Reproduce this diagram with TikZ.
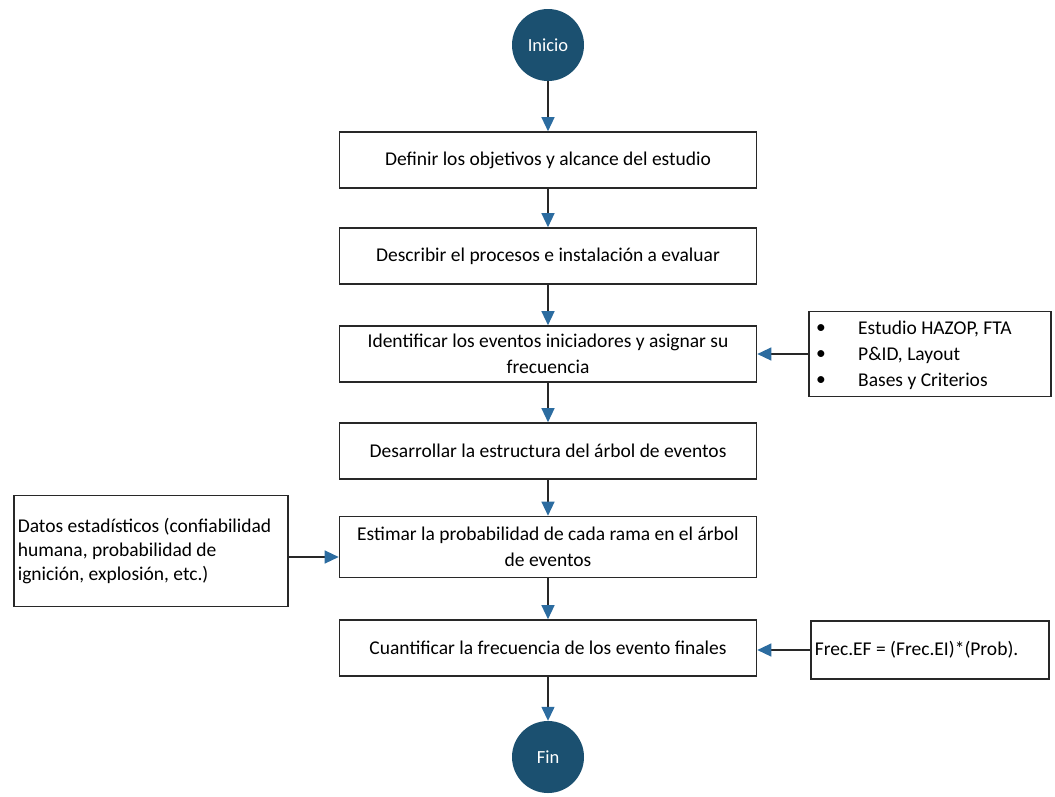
\documentclass[tikz,border=0pt]{standalone}
\usepackage{fontspec}
\setmainfont{Carlito}
\usetikzlibrary{arrows.meta}
\definecolor{circfill}{RGB}{27,80,112}
\definecolor{tipblue}{RGB}{44,108,160}
\definecolor{linegray}{RGB}{40,40,40}
\tikzset{
  stepbox/.style={draw=linegray, line width=1.6pt, minimum width=417pt, minimum height=56pt,
    align=center, inner sep=2pt, font=\fontsize{19.5}{26}\selectfont},
  sidebox/.style={draw=linegray, line width=1.6pt, align=flush left, inner sep=4pt},
  sidetext/.style={anchor=west, inner sep=0pt, font=\fontsize{19.5}{24}\selectfont},
  endpoint/.style={circle, fill=circfill, text=white, minimum size=72pt, inner sep=0pt,
    font=\fontsize{18.5}{22}\selectfont},
  flow/.style={draw=linegray, line width=1.3pt,
    -{Triangle[length=14pt, width=13pt, color=tipblue]}}
}
\begin{document}
\begin{tikzpicture}[x=1pt, y=-1pt]
\useasboundingbox (0,0) rectangle (1055,796);

\node[endpoint] (ini) at (548,45) {Inicio};
\node[stepbox] (s1) at (548,160) {Definir los objetivos y alcance del estudio};
\node[stepbox] (s2) at (548,256) {Describir el procesos e instalación a evaluar};
\node[stepbox] (s3) at (548,354) {Identificar los eventos iniciadores y asignar su\\frecuencia};
\node[stepbox] (s4) at (548,451) {Desarrollar la estructura del árbol de eventos};
\node[stepbox, minimum height=61pt] (s5) at (548,547) {Estimar la probabilidad de cada rama en el árbol\\de eventos};
\node[stepbox] (s6) at (548,648) {Cuantificar la frecuencia de los evento finales};
\node[endpoint] (fin) at (548,757) {Fin};

% sources feeding the steps
\node[sidebox, minimum width=242pt, minimum height=85pt, anchor=west] (src) at (808,354) {};
\node[sidetext] (b1) at (816,329) {\textbullet};
\node[sidetext] (t1) at (858,329) {Estudio HAZOP, FTA};
\node[sidetext] (b2) at (816,355) {\textbullet};
\node[sidetext] (t2) at (858,355) {P\&ID, Layout};
\node[sidetext] (b3) at (816,381) {\textbullet};
\node[sidetext] (t3) at (858,381) {Bases y Criterios};

\node[sidebox, minimum height=111pt, anchor=west, text width=266pt,
  font=\fontsize{19.5}{24}\selectfont] (dat) at (13,551)
  {Datos estadísticos (confiabilidad\\humana, probabilidad de\\ignición, explosión, etc.)};

\node[sidebox, minimum height=58pt, anchor=west, text width=230pt,
  font=\fontsize{19.5}{24}\selectfont] (frec) at (810,650)
  {Frec.EF = (Frec.EI)*(Prob).};

% main flow
\draw[flow] (ini) -- (s1);
\draw[flow] (s1) -- (s2);
\draw[flow] (s2) -- (s3);
\draw[flow] (s3) -- (s4);
\draw[flow] (s4) -- (s5);
\draw[flow] (s5) -- (s6);
\draw[flow] (s6) -- (fin);

% side inputs
\draw[flow] (src.west) -- (s3.east |- src.west);
\draw[flow] (dat.east |- 0,557) -- (s5.west |- 0,557);
\draw[flow] (frec.west) -- (s6.east |- frec.west);
\end{tikzpicture}
\end{document}
